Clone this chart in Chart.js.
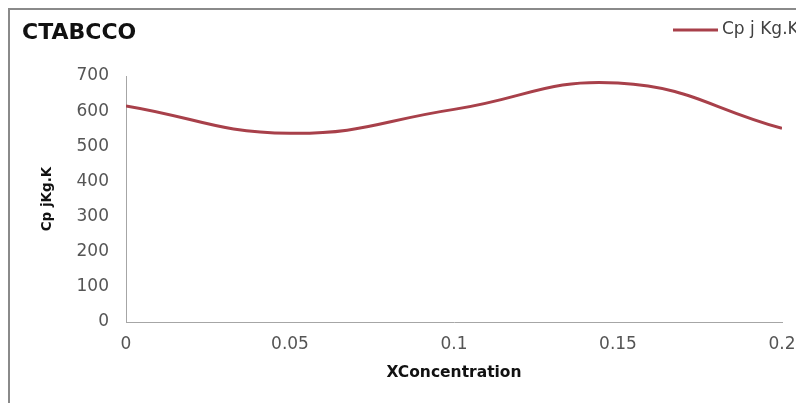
<!DOCTYPE html>
<html>
<head>
<meta charset="utf-8">
<script src="https://cdn.jsdelivr.net/npm/chart.js@4"></script>
<style>
  html, body { margin: 0; padding: 0; background: #fff; overflow: hidden; }
  #wrap { position: relative; width: 796px; height: 403px; overflow: hidden; }
  #frame { position: absolute; left: 8px; top: 8px; width: 900px; height: 500px;
           border: 2px solid #8a8a8a; box-sizing: border-box; pointer-events: none; }
  canvas { position: absolute; left: 0; top: 0; }
</style>
</head>
<body>
<div id="wrap">
  <canvas id="chart" width="820" height="403"></canvas>
  <div id="frame"></div>
</div>
<script>
const concentration = [0, 0.05, 0.1, 0.15, 0.2];
const cpValues = [615, 537, 605, 680, 551];
const seriesName = 'Cp j Kg.K';
const chartTitle = 'CTABCCO';

const lineColor = '#a8404a';
const fontFamily = '"DejaVu Sans", sans-serif';

// titre et légende dessinés à la main (même rangée, comme dans Excel)
const headerPlugin = {
  id: 'header',
  afterDraw(chart) {
    const ctx = chart.ctx;
    ctx.save();
    ctx.fillStyle = '#111';
    ctx.font = 'bold 22px ' + fontFamily;
    ctx.textBaseline = 'middle';
    ctx.textAlign = 'left';
    ctx.fillText(chartTitle, 22, 33);

    const ds = chart.data.datasets[0];
    ctx.strokeStyle = ds.borderColor;
    ctx.lineWidth = 3;
    ctx.beginPath();
    ctx.moveTo(673, 30);
    ctx.lineTo(718, 30);
    ctx.stroke();
    ctx.fillStyle = '#404040';
    ctx.font = '17px ' + fontFamily;
    ctx.fillText(ds.label, 722, 30);
    ctx.restore();
  }
};

const ctx = document.getElementById('chart').getContext('2d');
new Chart(ctx, {
  type: 'line',
  data: {
    datasets: [{
      label: seriesName,
      data: concentration.map((x, i) => ({ x: x, y: cpValues[i] })),
      borderColor: lineColor,
      backgroundColor: lineColor,
      borderWidth: 3,
      pointRadius: 0,
      tension: 0.45,
      fill: false
    }]
  },
  options: {
    responsive: false,
    devicePixelRatio: 1,
    animation: false,
    layout: { padding: { top: 76, left: 9, right: 38, bottom: 0 } },
    plugins: {
      legend: { display: false },
      title: { display: false },
      tooltip: { enabled: false }
    },
    scales: {
      x: {
        type: 'linear',
        min: 0,
        max: 0.2,
        grid: { display: false, drawTicks: false },
        border: { display: true, color: '#a6a6a6', width: 1 },
        ticks: {
          stepSize: 0.05,
          padding: 12,
          color: '#555',
          font: { family: fontFamily, size: 17 },
          callback: v => String(+v.toFixed(2))
        },
        title: {
          display: true,
          text: 'XConcentration',
          color: '#111',
          font: { family: fontFamily, size: 15.5, weight: 'bold' },
          padding: { top: 0, bottom: 21 }
        },
        afterFit(scale) { scale.height = 81; }
      },
      y: {
        min: 0,
        max: 700,
        grid: { display: false, drawTicks: false },
        border: { display: true, color: '#a6a6a6', width: 1 },
        ticks: {
          stepSize: 100,
          padding: 17,
          color: '#555',
          font: { family: fontFamily, size: 17 }
        },
        title: {
          display: true,
          text: 'Cp jKg.K',
          color: '#111',
          font: { family: fontFamily, size: 13.5, weight: 'bold' },
          padding: { top: 30, bottom: 0 }
        },
        afterFit(scale) { scale.width = 117; }
      }
    }
  },
  plugins: [headerPlugin]
});
</script>
</body>
</html>
